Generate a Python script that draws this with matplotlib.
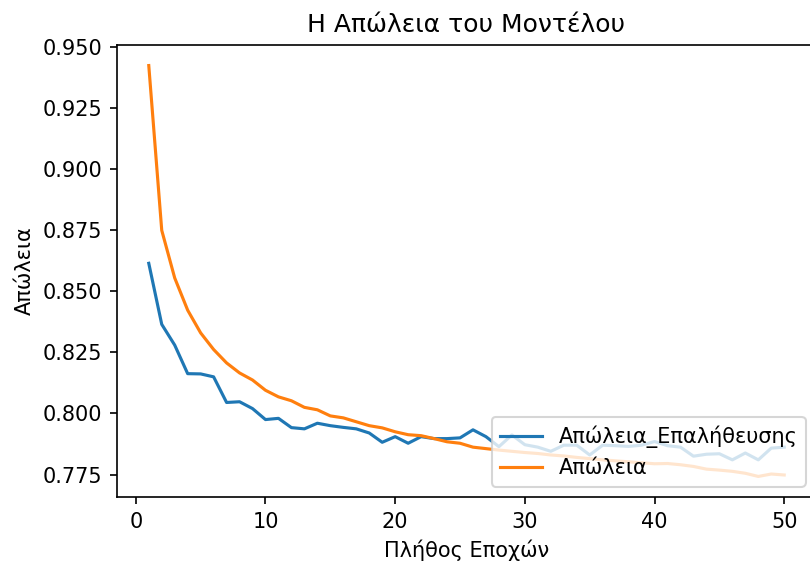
import numpy as np
import matplotlib
matplotlib.use('Agg')
import matplotlib.pyplot as plt

# Δεδομένα (εκτίμηση από την εικόνα)
epochs = list(range(1, 51))
val_loss = [0.8615, 0.8365, 0.8280, 0.8163, 0.8162, 0.8150, 0.8045, 0.8048, 0.8020, 0.7975,
            0.7980, 0.7942, 0.7937, 0.7960, 0.7950, 0.7943, 0.7937, 0.7920, 0.7882, 0.7905,
            0.7878, 0.7905, 0.7897, 0.7897, 0.7900, 0.7933, 0.7905, 0.7864, 0.7912, 0.7872,
            0.7862, 0.7845, 0.7870, 0.7870, 0.7830, 0.7870, 0.7868, 0.7865, 0.7870, 0.7885,
            0.7868, 0.7862, 0.7825, 0.7833, 0.7835, 0.7810, 0.7838, 0.7810, 0.7858, 0.7862]
loss = [0.9425, 0.8750, 0.8555, 0.8423, 0.8330, 0.8262, 0.8207, 0.8166, 0.8137, 0.8095,
        0.8068, 0.8052, 0.8025, 0.8015, 0.7990, 0.7982, 0.7966, 0.7950, 0.7941, 0.7925,
        0.7913, 0.7909, 0.7897, 0.7884, 0.7878, 0.7862, 0.7856, 0.7850, 0.7845, 0.7840,
        0.7836, 0.7830, 0.7826, 0.7820, 0.7815, 0.7810, 0.7806, 0.7802, 0.7798, 0.7794,
        0.7795, 0.7790, 0.7783, 0.7772, 0.7768, 0.7763, 0.7755, 0.7742, 0.7752, 0.7748]

# όλα στο default του matplotlib, απλά μεγαλύτερο dpi
dpi = 150
fig = plt.figure(figsize=(810 / dpi, 572 / dpi), dpi=dpi)
ax = fig.add_axes([117 / 810, 1 - 497 / 572, 699 / 810, 452 / 572])

ax.plot(epochs, val_loss, label='Απώλεια_Επαλήθευσης')
ax.plot(epochs, loss, label='Απώλεια')

ax.set_title('Η Απώλεια του Μοντέλου')
ax.set_xlabel('Πλήθος Εποχών')
ax.set_ylabel('Απώλεια')
ax.set_xticks([0, 10, 20, 30, 40, 50])
ax.yaxis.set_major_formatter(matplotlib.ticker.FormatStrFormatter('%.3f'))
ax.legend(loc='lower right')

plt.savefig('out.png', dpi=dpi)
